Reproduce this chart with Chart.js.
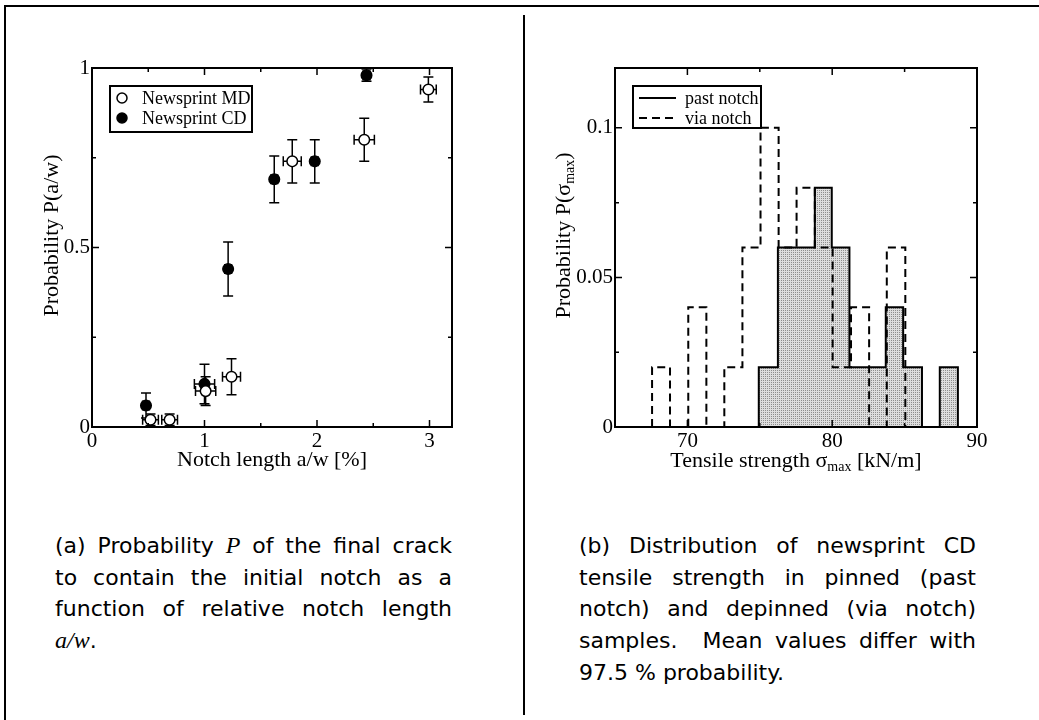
<!DOCTYPE html>
<html>
<head>
<meta charset="utf-8">
<script src="https://cdn.jsdelivr.net/npm/chart.js@4.4.0/dist/chart.umd.min.js"></script>
<style>
  html, body { margin: 0; padding: 0; background: #fff; }
  #page { position: relative; width: 1039px; height: 720px; overflow: hidden; }
  .rule { position: absolute; background: #000; }
  .panel { position: absolute; top: 0; }
  .caption { position: absolute; width: 397px; font-family: "DejaVu Sans", sans-serif; font-size: 22px; line-height: 31.7px; color: #000; }
  .caption div { text-align: justify; text-align-last: justify; white-space: nowrap; }
  .caption div.last { text-align-last: left; }
  .caption i { font-family: "Liberation Serif", serif; font-size: 24px; }
</style>
</head>
<body>
<div id="page">
  <div class="rule" style="left:4px; top:5px; width:1035px; height:2px;"></div>
  <div class="rule" style="left:4px; top:5px; width:2px; height:715px;"></div>
  <div class="rule" style="left:523px; top:15px; width:2px; height:700px;"></div>

  <canvas id="probChart" class="panel" style="left:0px;" width="523" height="490"></canvas>
  <canvas id="histChart" class="panel" style="left:523px;" width="516" height="490"></canvas>

  <div class="caption" style="left:55px; top:530px;">
    <div>(a) Probability <i>P</i> of the final crack</div>
    <div>to contain the initial notch as a</div>
    <div>function of relative notch length</div>
    <div class="last"><i>a/w</i>.</div>
  </div>
  <div class="caption" style="left:579px; top:530px;">
    <div>(b) Distribution of newsprint CD</div>
    <div>tensile strength in pinned (past</div>
    <div>notch) and depinned (via notch)</div>
    <div>samples.&nbsp; Mean values differ with</div>
    <div class="last">97.5 % probability.</div>
  </div>
</div>

<script>
// (a) probabilité P(a/w) — newsprint MD (cercles vides) et CD (pleins)
const mdX = [0.52, 0.69, 1.01, 1.24, 1.78, 2.42, 2.99];
const mdY = [0.02, 0.02, 0.10, 0.14, 0.74, 0.80, 0.94];
const mdXErr = [0.07, 0.07, 0.09, 0.08, 0.08, 0.09, 0.07];
const mdYErr = [0.016, 0.016, 0.04, 0.05, 0.06, 0.06, 0.035];

const cdX = [0.48, 1.00, 1.21, 1.62, 1.98, 2.44];
const cdY = [0.06, 0.12, 0.44, 0.69, 0.74, 0.98];
const cdXErr = [0.03, 0.09, 0.03, 0.03, 0.03, 0.03];
const cdYErr = [0.035, 0.055, 0.075, 0.065, 0.06, 0.017];

// (b) histogrammes de résistance à la traction
const pastEdges = [74.93, 76.25, 77.5, 78.8, 79.97, 81.19, 82.4, 83.7, 84.9, 86.2, 87.43, 88.68];
const pastProb = [0.02, 0.06, 0.06, 0.08, 0.06, 0.02, 0.02, 0.04, 0.02, 0, 0.02];
const viaEdges = [67.56, 68.8, 70.06, 71.31, 72.55, 73.8, 75.05, 76.3, 77.54, 78.8, 80.03, 81.3, 82.55, 83.77, 85.05];
const viaProb = [0.02, 0, 0.04, 0, 0.02, 0.06, 0.1, 0.06, 0.08, 0.06, 0.02, 0.04, 0, 0.06];

// étiquettes des graduations
const probXLabels = [0, 1, 2, 3];
const probYLabels = [0, 0.5, 1];
const histXLabels = [70, 80, 90];
const histYLabels = [0, 0.05, 0.1];

const SERIF = '"Liberation Serif", "Times New Roman", serif';

function toPoints(xs, ys) {
    return xs.map((x, i) => ({ x: x, y: ys[i] }));
}

// contour en escalier d'un histogramme
function stepPoints(edges, probs) {
    const pts = [{ x: edges[0], y: 0 }];
    probs.forEach((p, i) => pts.push({ x: edges[i], y: p }));
    pts.push({ x: edges[edges.length - 1], y: 0 });
    return pts;
}

function hasLabel(list, v) {
    return list.some(l => Math.abs(l - v) < 1e-6);
}

// motif pointillé gris pour le remplissage
function stipple() {
    const c = document.createElement("canvas");
    c.width = 2; c.height = 2;
    const g = c.getContext("2d");
    g.fillStyle = "#dedede";
    g.fillRect(0, 0, 2, 2);
    g.fillStyle = "#8e8e8e";
    g.fillRect(0, 0, 1, 1);
    return g.createPattern(c, "repeat");
}

// cadre + graduations vers l'intérieur sur les quatre côtés
const frameTicks = {
    id: "frameTicks",
    afterDatasetsDraw(chart, args, opts) {
        const { ctx, chartArea: a, scales: { x, y } } = chart;
        ctx.save();
        ctx.strokeStyle = "#000";
        ctx.lineWidth = 1.5;
        ctx.beginPath();
        x.ticks.forEach(t => {
            const px = x.getPixelForValue(t.value);
            if (px < a.left + 2 || px > a.right - 2) return;
            const len = hasLabel(opts.xLabels, t.value) ? 7 : 4;
            ctx.moveTo(px, a.bottom); ctx.lineTo(px, a.bottom - len);
            ctx.moveTo(px, a.top); ctx.lineTo(px, a.top + len);
        });
        y.ticks.forEach(t => {
            const py = y.getPixelForValue(t.value);
            if (py < a.top + 2 || py > a.bottom - 2) return;
            const len = hasLabel(opts.yLabels, t.value) ? 7 : 4;
            ctx.moveTo(a.left, py); ctx.lineTo(a.left + len, py);
            ctx.moveTo(a.right, py); ctx.lineTo(a.right - len, py);
        });
        ctx.stroke();
        ctx.lineWidth = 2;
        ctx.strokeRect(a.left, a.top, a.right - a.left, a.bottom - a.top);
        ctx.restore();
    }
};

// titres d'axes (avec indice)
function drawRich(ctx, parts, cx, cy, rotate) {
    const big = "22px " + SERIF, small = "14px " + SERIF;
    let total = 0;
    parts.forEach(p => { ctx.font = p.sub ? small : big; total += ctx.measureText(p.t).width; });
    ctx.save();
    ctx.translate(cx, cy);
    if (rotate) ctx.rotate(-Math.PI / 2);
    ctx.fillStyle = "#000";
    ctx.textBaseline = "alphabetic";
    let xx = -total / 2;
    parts.forEach(p => {
        ctx.font = p.sub ? small : big;
        ctx.fillText(p.t, xx, p.sub ? 10 : 6);
        xx += ctx.measureText(p.t).width;
    });
    ctx.restore();
}

const axisTitles = {
    id: "axisTitles",
    afterDraw(chart, args, opts) {
        const { ctx, chartArea: a } = chart;
        drawRich(ctx, opts.x, (a.left + a.right) / 2, opts.xAt, false);
        drawRich(ctx, opts.y, opts.yAt, (a.top + a.bottom) / 2 - 12, true);
    }
};

// légende encadrée dans la zone du graphique
const boxLegend = {
    id: "boxLegend",
    afterDraw(chart, args, opts) {
        const { ctx, chartArea: a } = chart;
        const bx = a.left + opts.dx, by = a.top + opts.dy;
        ctx.save();
        ctx.fillStyle = "#fff";
        ctx.fillRect(bx, by, opts.w, opts.h);
        ctx.strokeStyle = "#000";
        ctx.lineWidth = 2;
        ctx.strokeRect(bx, by, opts.w, opts.h);
        chart.data.datasets.forEach((ds, i) => {
            const ry = by + 12 + i * 20;
            if (opts.kind === "point") {
                ctx.beginPath();
                ctx.arc(bx + 12, ry, 5, 0, Math.PI * 2);
                ctx.fillStyle = ds.pointBackgroundColor;
                ctx.fill();
                ctx.lineWidth = 1.5;
                ctx.strokeStyle = "#000";
                ctx.stroke();
            } else {
                ctx.beginPath();
                ctx.setLineDash(ds.borderDash || []);
                ctx.lineWidth = 2;
                ctx.strokeStyle = ds.borderColor;
                ctx.moveTo(bx + 6, ry);
                ctx.lineTo(bx + 43, ry);
                ctx.stroke();
                ctx.setLineDash([]);
            }
            ctx.fillStyle = "#000";
            ctx.font = "18px " + SERIF;
            ctx.textBaseline = "middle";
            ctx.fillText(ds.label, bx + opts.tx, ry + 1);
        });
        ctx.restore();
    }
};

// barres d'erreur en x et en y
const errorBars = {
    id: "errorBars",
    beforeDatasetsDraw(chart) {
        const { ctx, scales: { x, y } } = chart;
        ctx.save();
        ctx.strokeStyle = "#000";
        ctx.lineWidth = 1.5;
        ctx.beginPath();
        chart.data.datasets.forEach(ds => {
            ds.data.forEach((p, i) => {
                const px = x.getPixelForValue(p.x), py = y.getPixelForValue(p.y);
                const xl = x.getPixelForValue(p.x - ds.xErr[i]);
                const xr = x.getPixelForValue(p.x + ds.xErr[i]);
                const yt = y.getPixelForValue(p.y + ds.yErr[i]);
                const yb = y.getPixelForValue(p.y - ds.yErr[i]);
                ctx.moveTo(xl, py); ctx.lineTo(xr, py);
                ctx.moveTo(xl, py - 5); ctx.lineTo(xl, py + 5);
                ctx.moveTo(xr, py - 5); ctx.lineTo(xr, py + 5);
                ctx.moveTo(px, yt); ctx.lineTo(px, yb);
                ctx.moveTo(px - 5, yt); ctx.lineTo(px + 5, yt);
                ctx.moveTo(px - 5, yb); ctx.lineTo(px + 5, yb);
            });
        });
        ctx.stroke();
        ctx.restore();
    }
};

function axis(min, max, step, labels, fmt, isY) {
    return {
        type: "linear",
        min: min,
        max: max,
        grid: { display: false, drawTicks: false },
        border: { display: false },
        ticks: {
            stepSize: step,
            includeBounds: false,
            autoSkip: false,
            maxRotation: 0,
            padding: 2,
            color: "#000",
            font: { family: SERIF, size: 21 },
            callback: v => hasLabel(labels, v) ? fmt(v) : ""
        },
        afterFit: s => { if (isY) s.width = 92; else s.height = 63; }
    };
}

const fmtNum = v => String(+v.toFixed(3));

new Chart(document.getElementById("probChart"), {
    type: "scatter",
    data: {
        datasets: [
            {
                label: "Newsprint MD",
                data: toPoints(mdX, mdY),
                xErr: mdXErr,
                yErr: mdYErr,
                pointRadius: 5.3,
                pointBorderWidth: 1.5,
                pointBorderColor: "#000",
                pointBackgroundColor: "#fff"
            },
            {
                label: "Newsprint CD",
                data: toPoints(cdX, cdY),
                xErr: cdXErr,
                yErr: cdYErr,
                pointRadius: 5.3,
                pointBorderWidth: 1.5,
                pointBorderColor: "#000",
                pointBackgroundColor: "#000"
            }
        ]
    },
    options: {
        responsive: false,
        animation: false,
        layout: { padding: { left: 0, top: 68, right: 71, bottom: 0 } },
        scales: {
            x: axis(0, 3.2, 0.5, probXLabels, fmtNum, false),
            y: axis(0, 1, 0.25, probYLabels, fmtNum, true)
        },
        plugins: {
            legend: { display: false },
            tooltip: { enabled: false },
            frameTicks: { xLabels: probXLabels, yLabels: probYLabels },
            axisTitles: {
                x: [{ t: "Notch length a/w [%]" }],
                y: [{ t: "Probability P(a/w)" }],
                xAt: 460, yAt: 52
            },
            boxLegend: { kind: "point", dx: 18, dy: 18, w: 142, h: 46, tx: 32 }
        }
    },
    plugins: [errorBars, frameTicks, axisTitles, boxLegend]
});

new Chart(document.getElementById("histChart"), {
    type: "line",
    data: {
        datasets: [
            {
                label: "past notch",
                data: stepPoints(pastEdges, pastProb),
                stepped: "before",
                borderColor: "#000",
                borderWidth: 2,
                backgroundColor: stipple(),
                fill: "origin",
                pointRadius: 0
            },
            {
                label: "via notch",
                data: stepPoints(viaEdges, viaProb),
                stepped: "before",
                borderColor: "#000",
                borderWidth: 2,
                borderDash: [8, 5],
                fill: false,
                pointRadius: 0
            }
        ]
    },
    options: {
        responsive: false,
        animation: false,
        layout: { padding: { left: 0, top: 68, right: 62, bottom: 0 } },
        scales: {
            x: axis(65, 90, 5, histXLabels, fmtNum, false),
            y: axis(0, 0.12, 0.025, histYLabels, fmtNum, true)
        },
        plugins: {
            legend: { display: false },
            tooltip: { enabled: false },
            filler: { drawTime: "beforeDatasetsDraw" },
            frameTicks: { xLabels: histXLabels, yLabels: histYLabels },
            axisTitles: {
                x: [{ t: "Tensile strength " }, { t: "σ" }, { t: "max", sub: true }, { t: " [kN/m]" }],
                y: [{ t: "Probability P(" }, { t: "σ" }, { t: "max", sub: true }, { t: ")" }],
                xAt: 461, yAt: 41
            },
            boxLegend: { kind: "line", dx: 18, dy: 18, w: 128, h: 42, tx: 52 }
        }
    },
    plugins: [frameTicks, axisTitles, boxLegend]
});
</script>
</body>
</html>
